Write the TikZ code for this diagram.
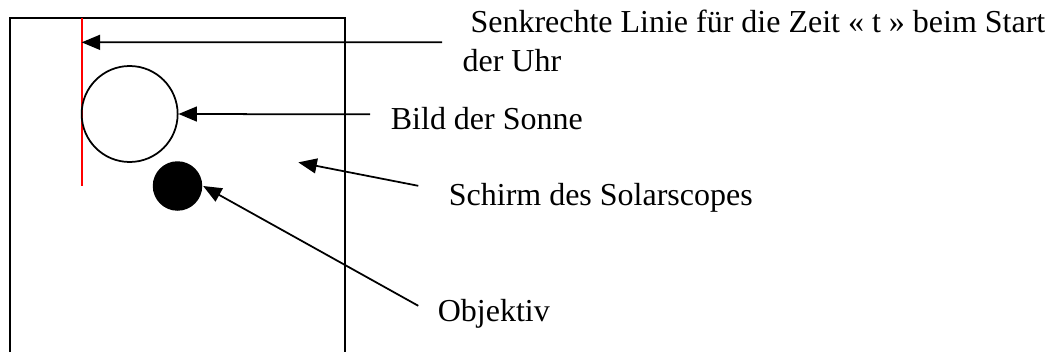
\documentclass[tikz,border=0pt]{standalone}
\usepackage{fontspec}
\setmainfont{Liberation Serif}
\usetikzlibrary{arrows.meta}

\begin{document}
\begin{tikzpicture}[line width = 1pt, >={Triangle[length = 10.5pt, width = 8.5pt]},
  lbl/.style = {anchor = base west, inner sep = 0, font = \fontsize{18.2}{21.9}\selectfont}]
\useasboundingbox (0, 0) rectangle (20.94, 7.04);
% screen and the line for t
\draw (0.2, 0) -- (0.2, 6.68) -- (6.9, 6.68) -- (6.9, 0);
\draw [color = red, line width = 1.1pt] (1.633, 6.68) -- (1.633, 3.32);
\node [draw, circle, minimum size = 1.92cm, inner sep = 0] (sonne) at (2.593, 4.76) {};
\node [fill, circle, minimum size = 0.99cm, inner sep = 0] (objektiv) at (3.55, 3.32) {};
\coordinate (linie) at (1.633, 6.193);
\coordinate (schirm) at (5.967, 3.793);
% labels
\node [lbl] (txtlinie) at (9.234, 6.38) {\ Senkrechte Linie für die Zeit « t » beim Start};
\node [lbl] (txtuhr) at (9.234, 5.61) {der Uhr};
\node [lbl] (txtsonne) at (7.8, 4.44) {Bild der Sonne};
\node [lbl] (txtschirm) at (8.96, 2.94) {Schirm des Solarscopes};
\node [lbl] (txtobjektiv) at (8.74, 0.606) {Objektiv};
% arrows
\draw [->] ([xshift = -0.394cm, yshift = 0.364cm]txtuhr.west) -- (linie);
\draw [->] ([xshift = -0.4cm, yshift = 0.094cm]txtsonne.west) -- (sonne.east);
\draw [->] ([xshift = -0.594cm, yshift = 0.23cm]txtschirm.west) -- (schirm);
\draw [->] ([xshift = -0.374cm, yshift = 0.164cm]txtobjektiv.west) -- (objektiv.east);
\end{tikzpicture}
\end{document}
